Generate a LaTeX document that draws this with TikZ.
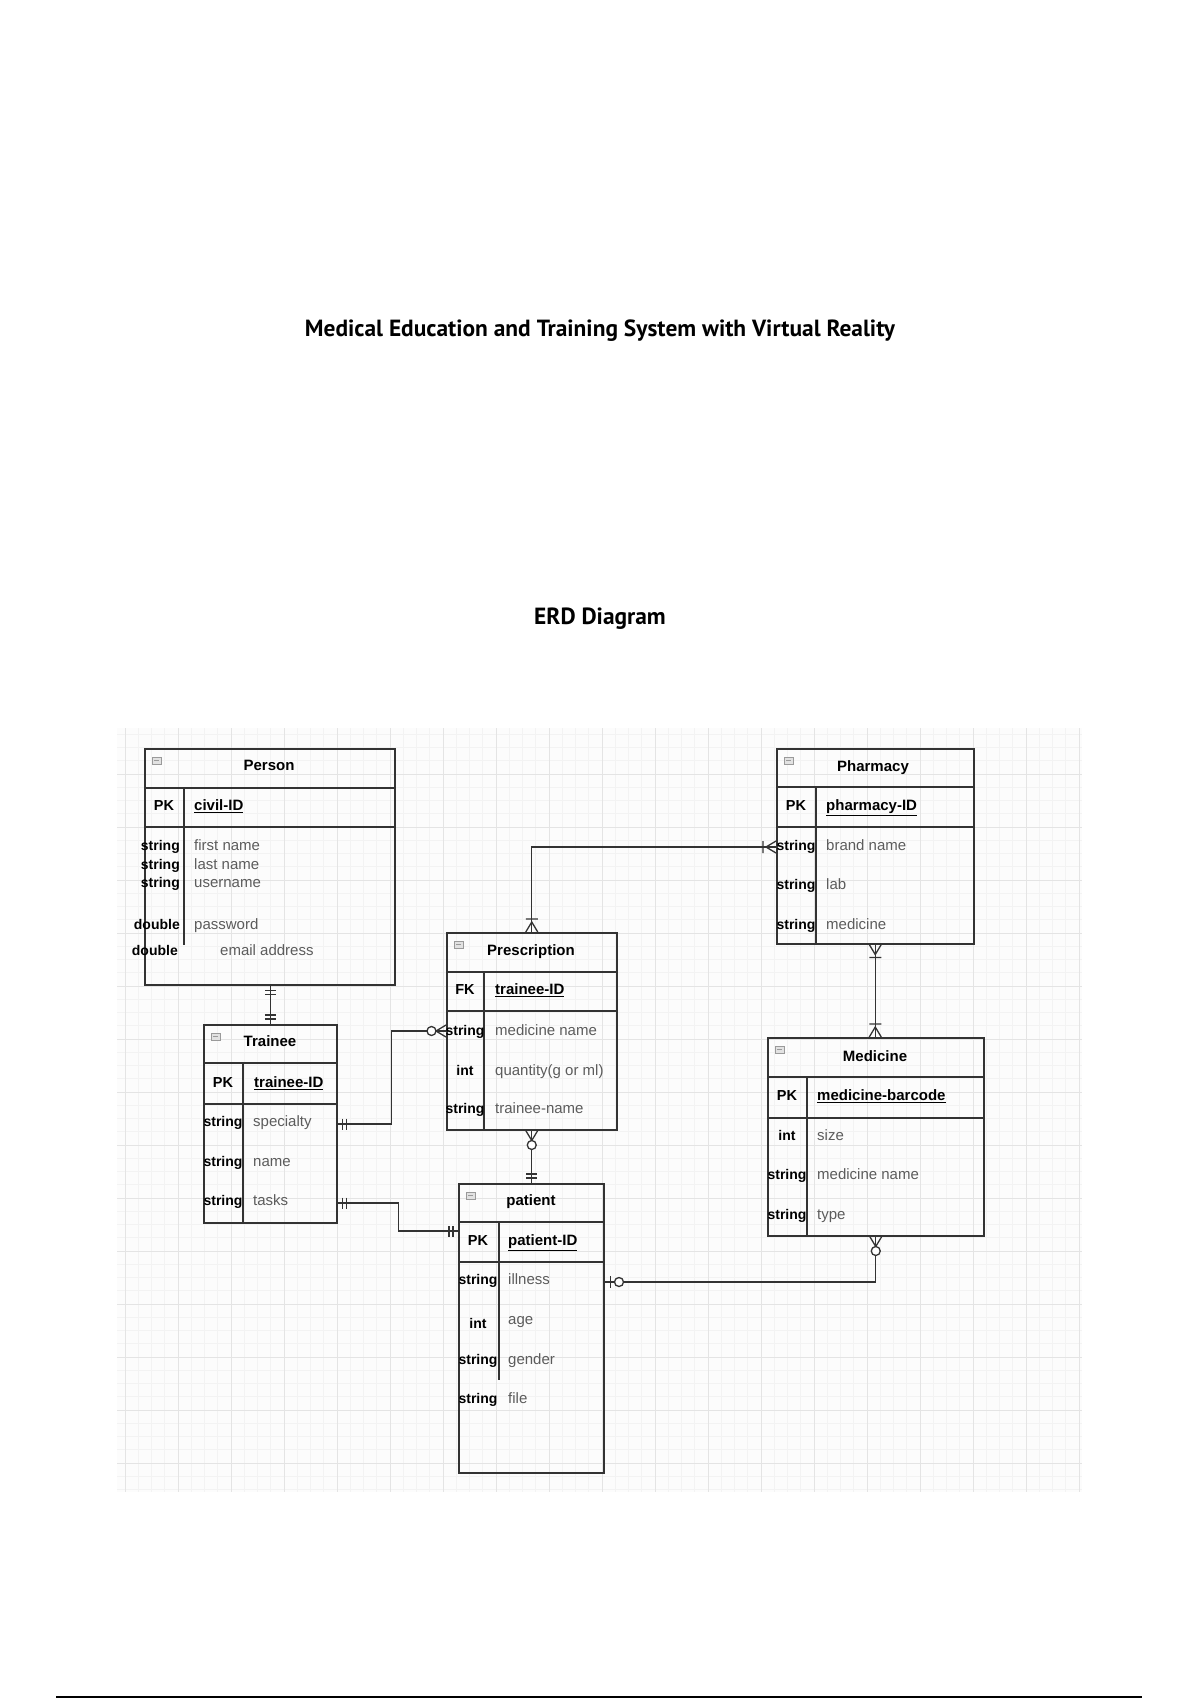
\documentclass[tikz,border=0pt]{standalone}
\usepackage{fontspec}
\setmainfont{Liberation Sans}
\newfontfamily\titlefont{PT Sans}
\usetikzlibrary{calc}
\definecolor{gridminor}{HTML}{F3F3F3}
\definecolor{gridmajor}{HTML}{E4E4E4}
\definecolor{boxline}{HTML}{333333}
\definecolor{attrtext}{HTML}{5C5C5C}
\definecolor{iconfill}{HTML}{E2E2E2}
\definecolor{iconline}{HTML}{9A9A9A}
\tikzset{
  entity/.style={draw=boxline, line width=1.5pt, anchor=north west, inner sep=0pt},
  rowline/.style={draw=boxline, line width=1.5pt},
  conn/.style={draw=boxline, line width=1.3pt},
  etitle/.style={font=\fontsize{15}{18}\selectfont\bfseries, text=black, inner sep=0pt, anchor=mid},
  ekey/.style={font=\fontsize{14.5}{17}\selectfont\bfseries, text=black, inner sep=0pt, anchor=mid},
  ekeyname/.style={font=\fontsize{15}{18}\selectfont\bfseries, text=black, inner sep=0pt, anchor=mid west},
  etype/.style={font=\fontsize{14}{17}\selectfont\bfseries, text=black, inner sep=0pt, anchor=mid},
  etypeR/.style={etype, anchor=mid east},
  eattr/.style={font=\fontsize{15}{18}\selectfont, text=attrtext, inner sep=0pt, anchor=mid west},
  icon/.style={draw=iconline, fill=iconfill, line width=0.6pt},
  pics/cmone/.style={code={\draw[conn] (5,-5.5) -- (5,5.5) (9,-5.5) -- (9,5.5);}},
  pics/cmany/.style={code={\draw[conn] (0,-6) -- (10,0) -- (0,6) (13,-6) -- (13,6);}},
  pics/czmany/.style={code={\draw[conn] (0,-6) -- (10,0) -- (0,6); \draw[conn, fill=white] (14.5,0) circle (4.5pt);}},
  pics/czone/.style={code={\draw[conn] (6,-6) -- (6,6); \draw[conn, fill=white] (14.5,0) circle (4.5pt);}},
}
\newcommand\entityicon[2]{\draw[icon] (#1+8,#2+9) rectangle ++(9,7); \draw[iconline, line width=0.7pt] (#1+10,#2+12.5) -- ++(5,0);}
\begin{document}
\begin{tikzpicture}[x=1pt, y=-1pt]
\useasboundingbox (0,0) rectangle (1200,1700);
\fill[white] (0,0) rectangle (1200,1700);

% titles
\node[font=\titlefont\bfseries\fontsize{23.4}{27}\selectfont, inner sep=0pt] (maintitle) at (600,331) {Medical Education and Training System with Virtual Reality};
\node[font=\titlefont\bfseries\fontsize{23.4}{27}\selectfont, inner sep=0pt] (erdtitle) at (600,619) {ERD Diagram};

% grid
\begin{scope}
\clip (117,728) rectangle (1082,1492);
\fill[white!99!black] (117,728) rectangle (1082,1492);
\foreach \k in {0,...,73} {\draw[gridminor, line width=0.6pt] ({111.75+13.25*\k},728) -- ++(0,764);}
\foreach \k in {0,...,58} {\draw[gridminor, line width=0.6pt] (117,{721+13.25*\k}) -- ++(965,0);}
\foreach \k in {0,...,18} {\draw[gridmajor, line width=0.8pt] ({125+53*\k},728) -- ++(0,764);}
\foreach \k in {0,...,14} {\draw[gridmajor, line width=0.8pt] (117,{721+53*\k}) -- ++(965,0);}
\end{scope}

% ---------------- Person
\node[entity, minimum width=250pt, minimum height=236pt] (person) at (144,748) {};
\draw[rowline] (144,788) -- (394,788) (144,827) -- (394,827) (184,788) -- (184,945);
\entityicon{144}{748}
\node[etitle] (person-t) at (269,768) {Person};
\node[ekey] (person-k) at (164,808) {PK};
\node[ekeyname] (person-id) at (194,808) {\underline{civil-ID}};
\node[etypeR] (person-y1) at (180,848) {string};
\node[etypeR] (person-y2) at (180,867) {string};
\node[etypeR] (person-y3) at (180,885) {string};
\node[etypeR] (person-y4) at (180,927) {double};
\node[etypeR] (person-y5) at (178,953) {double};
\node[eattr] (person-a1) at (194,848) {first name};
\node[eattr] (person-a2) at (194,867) {last name};
\node[eattr] (person-a3) at (194,885) {username};
\node[eattr] (person-a4) at (194,927) {password};
\node[eattr] (person-a5) at (220,953) {email address};

% ---------------- Trainee
\node[entity, minimum width=133pt, minimum height=198pt] (trainee) at (203,1024) {};
\draw[rowline] (203,1063) -- (336,1063) (203,1104) -- (336,1104) (243,1063) -- (243,1222);
\entityicon{203}{1024}
\node[etitle] (trainee-t) at (270,1044) {Trainee};
\node[ekey] (trainee-k) at (223,1085) {PK};
\node[ekeyname] (trainee-id) at (254,1085) {\underline{trainee-ID}};
\node[etype] (trainee-y1) at (223,1124) {string};
\node[etype] (trainee-y2) at (223,1164) {string};
\node[etype] (trainee-y3) at (223,1203) {string};
\node[eattr] (trainee-a1) at (253,1124) {specialty};
\node[eattr] (trainee-a2) at (253,1164) {name};
\node[eattr] (trainee-a3) at (253,1203) {tasks};

% ---------------- Prescription
\node[entity, minimum width=170pt, minimum height=197pt] (prescription) at (446,932) {};
\draw[rowline] (446,972) -- (616,972) (446,1011) -- (616,1011) (484,972) -- (484,1129);
\entityicon{446}{932}
\node[etitle] (prescription-t) at (531,953) {Prescription};
\node[ekey] (prescription-k) at (465,992) {FK};
\node[ekeyname] (prescription-id) at (495,992) {\underline{trainee-ID}};
\node[etype] (prescription-y1) at (465,1033) {string};
\node[etype] (prescription-y2) at (465,1073) {int};
\node[etype] (prescription-y3) at (465,1111) {string};
\node[eattr] (prescription-a1) at (495,1033) {medicine name};
\node[eattr] (prescription-a2) at (495,1073) {quantity(g or ml)};
\node[eattr] (prescription-a3) at (495,1111) {trainee-name};

% ---------------- patient
\node[entity, minimum width=145pt, minimum height=289pt] (patient) at (458,1183) {};
\draw[rowline] (458,1222) -- (603,1222) (458,1262) -- (603,1262) (499,1222) -- (499,1380);
\entityicon{458}{1183}
\node[etitle] (patient-t) at (531,1203) {patient};
\node[ekey] (patient-k) at (478,1243) {PK};
\node[ekeyname] (patient-id) at (508,1243) {\underline{patient-ID}};
\node[etype] (patient-y1) at (478,1282) {string};
\node[etype] (patient-y2) at (478,1326) {int};
\node[etype] (patient-y3) at (478,1362) {string};
\node[etype] (patient-y4) at (478,1401) {string};
\node[eattr] (patient-a1) at (508,1282) {illness};
\node[eattr] (patient-a2) at (508,1322) {age};
\node[eattr] (patient-a3) at (508,1362) {gender};
\node[eattr] (patient-a4) at (508,1401) {file};

% ---------------- Pharmacy
\node[entity, minimum width=197pt, minimum height=195pt] (pharmacy) at (776,748) {};
\draw[rowline] (776,787) -- (973,787) (776,827) -- (973,827) (816,787) -- (816,943);
\entityicon{776}{748}
\node[etitle] (pharmacy-t) at (873,769) {Pharmacy};
\node[ekey] (pharmacy-k) at (796,808) {PK};
\node[ekeyname] (pharmacy-id) at (826,808) {\underline{pharmacy-ID}};
\node[etype] (pharmacy-y1) at (796,848) {string};
\node[etype] (pharmacy-y2) at (796,887) {string};
\node[etype] (pharmacy-y3) at (796,927) {string};
\node[eattr] (pharmacy-a1) at (826,848) {brand name};
\node[eattr] (pharmacy-a2) at (826,887) {lab};
\node[eattr] (pharmacy-a3) at (826,927) {medicine};

% ---------------- Medicine
\node[entity, minimum width=216pt, minimum height=198pt] (medicine) at (767,1037) {};
\draw[rowline] (767,1077) -- (983,1077) (767,1118) -- (983,1118) (807,1077) -- (807,1235);
\entityicon{767}{1037}
\node[etitle] (medicine-t) at (875,1059) {Medicine};
\node[ekey] (medicine-k) at (787,1098) {PK};
\node[ekeyname] (medicine-id) at (817,1098) {\underline{medicine-barcode}};
\node[etype] (medicine-y1) at (787,1138) {int};
\node[etype] (medicine-y2) at (787,1177) {string};
\node[etype] (medicine-y3) at (787,1217) {string};
\node[eattr] (medicine-a1) at (817,1138) {size};
\node[eattr] (medicine-a2) at (817,1177) {medicine name};
\node[eattr] (medicine-a3) at (817,1217) {type};

% ---------------- connectors
\coordinate (tr-spec) at (trainee.east |- 0,1124);
\coordinate (pr-med) at (prescription.west |- 0,1031);
\coordinate (tr-task) at (trainee.east |- 0,1203);
\coordinate (pa-pk) at (patient.west |- 0,1231);
\coordinate (ph-brand) at (pharmacy.west |- 0,847);
\coordinate (pa-ill) at (patient.east |- 0,1282);
\coordinate (pe-bot) at (trainee.north |- person.south);
\coordinate (pa-top) at (prescription.south |- patient.north);
\coordinate (me-top) at (pharmacy.south |- medicine.north);

\draw[conn] (pe-bot) -- (trainee.north);
\draw[conn] (tr-spec) -- ++(54,0) |- (pr-med);
\draw[conn] (tr-task) -- ++(61,0) |- (pa-pk);
\draw[conn] (prescription.north) |- (ph-brand);
\draw[conn] (prescription.south) -- (pa-top);
\draw[conn] (pharmacy.south) -- (me-top);
\draw[conn] (pa-ill) -| (medicine.south);

% end marks
\pic[rotate=-90] at (pe-bot) {cmone};
\pic[rotate=90] at (trainee.north) {cmone};
\pic at (tr-spec) {cmone};
\pic[rotate=180] at (pr-med) {czmany};
\pic at (tr-task) {cmone};
\pic[rotate=180] at (pa-pk) {cmone};
\pic[rotate=90] at (prescription.north) {cmany};
\pic[rotate=180] at (ph-brand) {cmany};
\pic[rotate=-90] at (prescription.south) {czmany};
\pic[rotate=90] at (pa-top) {cmone};
\pic[rotate=-90] at (pharmacy.south) {cmany};
\pic[rotate=90] at (me-top) {cmany};
\pic at (pa-ill) {czone};
\pic[rotate=-90] at (medicine.south) {czmany};

% bottom rule
\draw[black, line width=2pt] (56,1697) -- (1142,1697);
\end{tikzpicture}
\end{document}
